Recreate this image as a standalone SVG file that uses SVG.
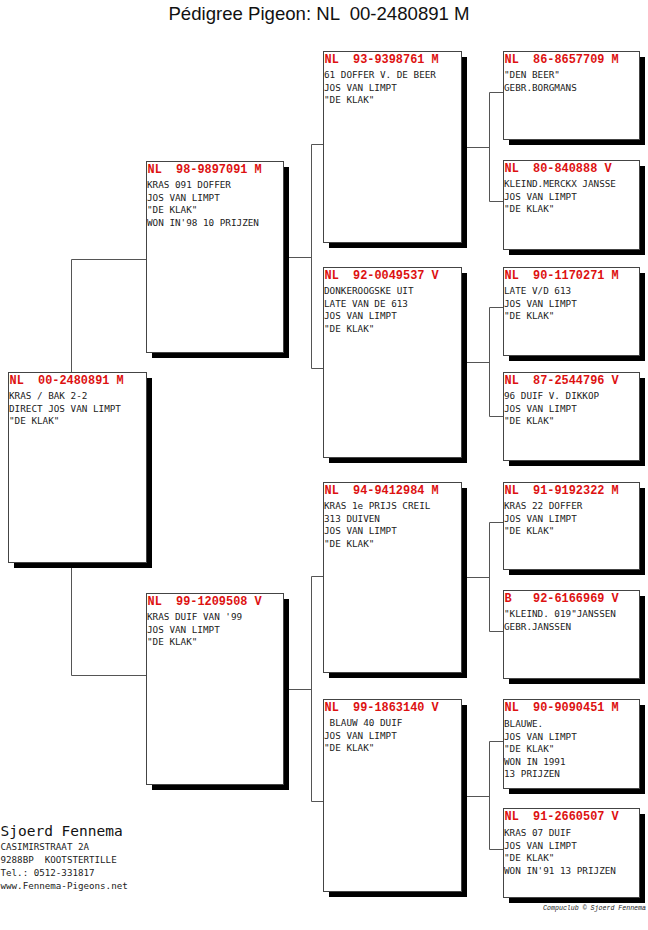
<svg xmlns="http://www.w3.org/2000/svg" width="648" height="930" viewBox="0 0 648 930">
<style>
.bg{fill:#fff}
.box{fill:#fff;stroke:#444;stroke-width:1}
.sh{fill:#000}
.hd{font-family:"Liberation Mono",monospace;font-weight:bold;font-size:11.9px;fill:#dd1111;white-space:pre}
.bd{font-family:"DejaVu Sans Mono",monospace;font-size:9.3px;fill:#222;white-space:pre}
.conn path{stroke:#555;stroke-width:1;fill:none}
.title{font-family:"Liberation Sans",Arial,sans-serif;font-size:18.6px;fill:#111}
.name{font-family:"DejaVu Sans Mono",monospace;font-size:14.5px;fill:#111}
.addr{font-family:"DejaVu Sans Mono",monospace;font-size:9.2px;fill:#222;white-space:pre}
.copy{font-family:"Liberation Mono",monospace;font-style:italic;font-size:6.6px;fill:#222}
</style>
<rect class="bg" x="0" y="0" width="648" height="930"/>
<text class="title" x="319" y="19.5" text-anchor="middle" xml:space="preserve">Pédigree Pigeon: NL  00-2480891 M</text>

<g id="connectors" class="conn">
<path d="M71.5,372 V259.5 H146"/>
<path d="M71.5,562 V675.5 H146"/>
<path d="M283,257.5 H311.5"/>
<path d="M323,144.5 H311.5 V368.5 H323"/>
<path d="M283,689.5 H311.5"/>
<path d="M323,576.5 H311.5 V801.5 H323"/>
<path d="M461,147.5 H489.5"/>
<path d="M503,92.5 H489.5 V201.5 H503"/>
<path d="M461,362.5 H489.5"/>
<path d="M503,307.5 H489.5 V416.5 H503"/>
<path d="M461,577.5 H489.5"/>
<path d="M503,522.5 H489.5 V631.5 H503"/>
<path d="M461,796.5 H489.5"/>
<path d="M503,741.5 H489.5 V849.5 H503"/>
</g>

<g id="n-00-2480891">
<rect class="sh" x="14" y="378" width="138" height="190"/>
<rect class="box" x="8.5" y="372.5" width="138" height="190"/>
<text class="hd" x="9.5" y="383.5">NL  00-2480891 M</text>
<text class="bd" x="9" y="399">KRAS / BAK 2-2</text>
<text class="bd" x="9" y="411.6">DIRECT JOS VAN LIMPT</text>
<text class="bd" x="9" y="424.2">"DE KLAK"</text>
</g>

<g id="n-98-9897091">
<rect class="sh" x="152" y="167" width="137" height="191"/>
<rect class="box" x="146.5" y="161.5" width="137" height="191"/>
<text class="hd" x="147.5" y="172.5">NL  98-9897091 M</text>
<text class="bd" x="147" y="188">KRAS 091 DOFFER</text>
<text class="bd" x="147" y="200.6">JOS VAN LIMPT</text>
<text class="bd" x="147" y="213.2">"DE KLAK"</text>
<text class="bd" x="147" y="225.8">WON IN'98 10 PRIJZEN</text>
</g>

<g id="n-99-1209508">
<rect class="sh" x="152" y="599" width="137" height="191"/>
<rect class="box" x="146.5" y="593.5" width="137" height="191"/>
<text class="hd" x="147.5" y="604.5">NL  99-1209508 V</text>
<text class="bd" x="147" y="620">KRAS DUIF VAN '99</text>
<text class="bd" x="147" y="632.6">JOS VAN LIMPT</text>
<text class="bd" x="147" y="645.2">"DE KLAK"</text>
</g>

<g id="n-93-9398761">
<rect class="sh" x="329" y="57" width="138" height="191"/>
<rect class="box" x="323.5" y="51.5" width="138" height="191"/>
<text class="hd" x="324.5" y="62.5">NL  93-9398761 M</text>
<text class="bd" x="324" y="78">61 DOFFER V. DE BEER</text>
<text class="bd" x="324" y="90.6">JOS VAN LIMPT</text>
<text class="bd" x="324" y="103.2">"DE KLAK"</text>
</g>

<g id="n-92-0049537">
<rect class="sh" x="329" y="273" width="138" height="190"/>
<rect class="box" x="323.5" y="267.5" width="138" height="190"/>
<text class="hd" x="324.5" y="278.5">NL  92-0049537 V</text>
<text class="bd" x="324" y="294">DONKEROOGSKE UIT</text>
<text class="bd" x="324" y="306.6">LATE VAN DE 613</text>
<text class="bd" x="324" y="319.2">JOS VAN LIMPT</text>
<text class="bd" x="324" y="331.8">"DE KLAK"</text>
</g>

<g id="n-94-9412984">
<rect class="sh" x="329" y="488" width="138" height="190"/>
<rect class="box" x="323.5" y="482.5" width="138" height="190"/>
<text class="hd" x="324.5" y="493.5">NL  94-9412984 M</text>
<text class="bd" x="324" y="509">KRAS 1e PRIJS CREIL</text>
<text class="bd" x="324" y="521.6">313 DUIVEN</text>
<text class="bd" x="324" y="534.2">JOS VAN LIMPT</text>
<text class="bd" x="324" y="546.8">"DE KLAK"</text>
</g>

<g id="n-99-1863140">
<rect class="sh" x="329" y="705" width="138" height="192"/>
<rect class="box" x="323.5" y="699.5" width="138" height="192"/>
<text class="hd" x="324.5" y="710.5">NL  99-1863140 V</text>
<text class="bd" x="324" y="726"> BLAUW 40 DUIF</text>
<text class="bd" x="324" y="738.6">JOS VAN LIMPT</text>
<text class="bd" x="324" y="751.2">"DE KLAK"</text>
</g>

<g id="n-86-8657709">
<rect class="sh" x="509" y="57" width="136" height="88"/>
<rect class="box" x="503.5" y="51.5" width="136" height="88"/>
<text class="hd" x="504.5" y="62.5">NL  86-8657709 M</text>
<text class="bd" x="504" y="78">"DEN BEER"</text>
<text class="bd" x="504" y="90.6">GEBR.BORGMANS</text>
</g>

<g id="n-80-840888">
<rect class="sh" x="509" y="166" width="136" height="89"/>
<rect class="box" x="503.5" y="160.5" width="136" height="89"/>
<text class="hd" x="504.5" y="171.5">NL  80-840888 V</text>
<text class="bd" x="504" y="187">KLEIND.MERCKX JANSSE</text>
<text class="bd" x="504" y="199.6">JOS VAN LIMPT</text>
<text class="bd" x="504" y="212.2">"DE KLAK"</text>
</g>

<g id="n-90-1170271">
<rect class="sh" x="509" y="273" width="136" height="88"/>
<rect class="box" x="503.5" y="267.5" width="136" height="88"/>
<text class="hd" x="504.5" y="278.5">NL  90-1170271 M</text>
<text class="bd" x="504" y="294">LATE V/D 613</text>
<text class="bd" x="504" y="306.6">JOS VAN LIMPT</text>
<text class="bd" x="504" y="319.2">"DE KLAK"</text>
</g>

<g id="n-87-2544796">
<rect class="sh" x="509" y="378" width="136" height="88"/>
<rect class="box" x="503.5" y="372.5" width="136" height="88"/>
<text class="hd" x="504.5" y="383.5">NL  87-2544796 V</text>
<text class="bd" x="504" y="399">96 DUIF V. DIKKOP</text>
<text class="bd" x="504" y="411.6">JOS VAN LIMPT</text>
<text class="bd" x="504" y="424.2">"DE KLAK"</text>
</g>

<g id="n-91-9192322">
<rect class="sh" x="509" y="488" width="136" height="87"/>
<rect class="box" x="503.5" y="482.5" width="136" height="87"/>
<text class="hd" x="504.5" y="493.5">NL  91-9192322 M</text>
<text class="bd" x="504" y="509">KRAS 22 DOFFER</text>
<text class="bd" x="504" y="521.6">JOS VAN LIMPT</text>
<text class="bd" x="504" y="534.2">"DE KLAK"</text>
</g>

<g id="n-92-6166969">
<rect class="sh" x="509" y="596" width="136" height="88"/>
<rect class="box" x="503.5" y="590.5" width="136" height="88"/>
<text class="hd" x="504.5" y="601.5">B   92-6166969 V</text>
<text class="bd" x="504" y="617">"KLEIND. 019"JANSSEN</text>
<text class="bd" x="504" y="629.6">GEBR.JANSSEN</text>
</g>

<g id="n-90-9090451">
<rect class="sh" x="509" y="705" width="136" height="89"/>
<rect class="box" x="503.5" y="699.5" width="136" height="89"/>
<text class="hd" x="504.5" y="711">NL  90-9090451 M</text>
<text class="bd" x="504" y="727">BLAUWE.</text>
<text class="bd" x="504" y="739.6">JOS VAN LIMPT</text>
<text class="bd" x="504" y="752.2">"DE KLAK"</text>
<text class="bd" x="504" y="764.8">WON IN 1991</text>
<text class="bd" x="504" y="777.4">13 PRIJZEN</text>
</g>

<g id="n-91-2660507">
<rect class="sh" x="509" y="814" width="136" height="89"/>
<rect class="box" x="503.5" y="808.5" width="136" height="89"/>
<text class="hd" x="504.5" y="820">NL  91-2660507 V</text>
<text class="bd" x="504" y="836">KRAS 07 DUIF</text>
<text class="bd" x="504" y="848.6">JOS VAN LIMPT</text>
<text class="bd" x="504" y="861.2">"DE KLAK"</text>
<text class="bd" x="504" y="873.8">WON IN'91 13 PRIJZEN</text>
</g>

<g id="footer">
<text class="name" x="0.5" y="836">Sjoerd Fennema</text>
<text class="addr" x="0.5" y="849.5">CASIMIRSTRAAT 2A</text>
<text class="addr" x="0.5" y="863">9288BP  KOOTSTERTILLE</text>
<text class="addr" x="0.5" y="876">Tel.: 0512-331817</text>
<text class="addr" x="0.5" y="889">www.Fennema-Pigeons.net</text>
<text class="copy" x="646" y="910" text-anchor="end">Compuclub © Sjoerd Fennema</text>
</g>
</svg>
